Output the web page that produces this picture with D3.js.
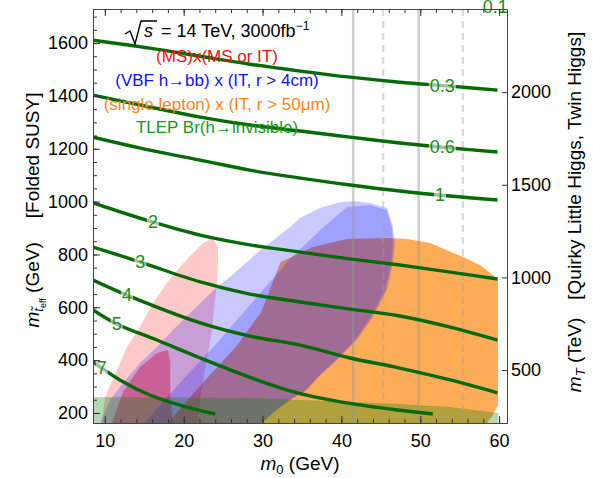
<!DOCTYPE html>
<html>
<head>
<meta charset="utf-8">
<script src="https://cdn.jsdelivr.net/npm/d3@7"></script>
<style>
body { margin: 0; background: #fff; }
text { font-family: "Liberation Sans", Arial, sans-serif; }
</style>
</head>
<body>
<svg id="chart" width="593" height="478"></svg>
<script>

// tick values
const m0Ticks = [10, 20, 30, 40, 50, 60];
const mStopTicks = [200, 400, 600, 800, 1000, 1200, 1400, 1600];
const mTTicks = [500, 1000, 1500, 2000];

// TLEP Br(h->invisible) contours, [m0, m_stop]
const br01 = [[8.5,1870],[22,1830],[35,1795],[47.4,1765],[59.8,1735]];
const br03 = [[8.5,1611],[15.7,1581],[22.1,1550],[28.4,1520],[34.8,1494],[41.1,1471],[47.4,1452],[53.8,1437],[59.8,1422]];
const br06 = [[8.5,1403],[15.7,1358],[22.1,1320],[28.4,1290],[34.8,1267],[41.1,1244],[47.4,1222],[53.8,1203],[59.8,1188]];
const br1  = [[8.5,1244],[15.7,1195],[22.1,1157],[28.4,1119],[34.8,1089],[41.1,1063],[47.4,1040],[53.8,1021],[59.8,1006]];
const br2  = [[8.5,995],[15.7,926],[22.1,873],[28.4,836],[34.8,809],[41.1,783],[47.4,760],[53.8,733],[59.8,707]];
const br3  = [[8.5,828],[14.5,771],[22.1,696],[28.4,650],[34.8,620],[41.1,593],[47.4,567],[53.8,525],[59.8,476]];
const br4  = [[8.5,703],[12.8,646],[22.1,541],[28.4,491],[34.8,457],[41.1,408],[47.4,370],[53.8,325],[59.8,276]];
const br5  = [[8.5,590],[11.5,537],[16.6,476],[22.1,408],[29.3,325],[34.4,276],[40.7,238],[47.1,211],[51.6,196]];
const br7  = [[8.5,393],[11.9,325],[15.7,268],[19.5,230],[24.0,196]];

const brCurves = [br01, br03, br06, br1, br2, br3, br4, br5, br7];
const brLevels = ["0.1", "0.3", "0.6", "1", "2", "3", "4", "5", "7"];
const brLabelX = [59.5, 52.8, 52.8, 52.5, 16.1, 14.5, 12.8, 11.5, 9.6];

// sensitivity regions, [m0, m_stop]
const msOuter = [[9.64,162],[10.02,260],[11.54,363],[12.81,450],[14.46,525],[16.11,616],[17.88,692],[19.53,752],[21.18,805],[22.45,843],[23.72,862],[24.35,828],[24.35,768],[24.22,692],[23.97,628],[23.59,514],[22.70,363],[22.07,249],[21.81,162]];
const msInner = [[10.9,162],[12.3,280],[14.46,374],[16.62,427],[18.0,438],[18.3,389],[18.3,260],[18.64,162]];
const vbfOuter = [[9.39,162],[10.66,249],[12.30,313],[14.46,389],[16.62,450],[18.64,514],[20.80,578],[24.22,677],[25.87,715],[29.30,805],[33.48,904],[34.75,938],[37.29,976],[39.82,998],[41.72,1002],[43.63,995],[45.78,976],[46.54,904],[46.80,843],[46.54,768],[45.78,665],[44.01,563],[41.98,476],[39.19,393],[37.29,344],[35.64,287],[33.48,249],[31.33,200],[30.06,162]];
const vbfInner = [[15.0,162],[20.2,336],[24.0,457],[28.4,609],[33.7,790],[37.3,892],[40.7,980],[43.6,987],[45.78,968],[46.42,900],[46.54,836],[46.29,760],[45.53,665],[43.75,563],[41.72,476],[38.93,389],[37.03,336],[35.38,283],[33.23,245],[31.07,196],[29.80,162]];
const leptonRegion = [[18.0,162],[22.4,313],[26.6,450],[29.8,580],[32.3,771],[36.40,828],[40.71,858],[46.16,862],[48.32,858],[51.23,843],[55.42,790],[57.57,760],[59.22,722],[59.86,703],[59.86,230],[59.22,192],[58.46,162]];
const tlepBand = [[8.5,162],[8.5,260],[28.4,257],[34.8,249],[41.1,242],[47.4,234],[53.8,223],[59.9,200],[59.9,162]];

// reference masses (gray lines)
const solidMarks = [41.5, 49.8];
const dashedMarks = [45.3, 55.4];

//////////////////////////////////////////////////////////////////////

const svg = d3.select('#chart');

const x = d3.scaleLinear().domain([8.5, 61]).range([93, 507]);
const y = d3.scaleLinear().domain([162, 1729]).range([423, 9]);
const yR = d3.scaleLinear().domain([214, 2449]).range([423, 9]);

svg.append('defs').append('clipPath').attr('id', 'plot-clip')
	.append('rect').attr('x', 93).attr('y', 9).attr('width', 414).attr('height', 414);

const plot = svg.append('g').attr('clip-path', 'url(#plot-clip)');

const shape = d3.line()
	.x(function(d) { return x(d[0]); })
	.y(function(d) { return y(d[1]); })
	.curve(d3.curveLinearClosed);

const regions = [
	{pts: leptonRegion, fill: 'rgba(255,128,0,0.65)'},
	{pts: msOuter, fill: 'rgba(255,0,0,0.21)'},
	{pts: msInner, fill: 'rgba(255,0,0,0.38)'},
	{pts: vbfOuter, fill: 'rgba(0,0,255,0.21)'},
	{pts: vbfInner, fill: 'rgba(0,0,255,0.2)'},
	{pts: tlepBand, fill: 'rgba(0,128,0,0.3)'}
];

plot.selectAll('path.region')
	.data(regions)
	.join('path')
	.classed('region', true)
	.attr('d', function(d) { return shape(d.pts); })
	.attr('fill', function(d) { return d.fill; });

// gray vertical lines
plot.selectAll('line.solid-mark')
	.data(solidMarks)
	.join('line')
	.attr('x1', function(d) { return x(d); })
	.attr('x2', function(d) { return x(d); })
	.attr('y1', 9).attr('y2', 423)
	.attr('stroke', 'rgba(150,150,150,0.45)')
	.attr('stroke-width', 2.6);

plot.selectAll('line.dashed-mark')
	.data(dashedMarks)
	.join('line')
	.attr('x1', function(d) { return x(d); })
	.attr('x2', function(d) { return x(d); })
	.attr('y1', 9).attr('y2', 423)
	.attr('stroke', 'rgba(160,160,160,0.4)')
	.attr('stroke-width', 2.2)
	.attr('stroke-dasharray', '7,5');

// contours
const curve = d3.line()
	.x(function(d) { return x(d[0]); })
	.y(function(d) { return y(d[1]); })
	.curve(d3.curveCatmullRom.alpha(0.5));

plot.selectAll('path.contour')
	.data(brCurves)
	.join('path')
	.classed('contour', true)
	.attr('d', curve)
	.attr('fill', 'none')
	.attr('stroke', '#066a06')
	.attr('stroke-width', 3.4);

function valueAt(pts, xv) {
	for (let i = 0; i < pts.length - 1; i++) {
		if (xv >= pts[i][0] && xv <= pts[i + 1][0]) {
			const t = (xv - pts[i][0]) / (pts[i + 1][0] - pts[i][0]);
			return pts[i][1] + t * (pts[i + 1][1] - pts[i][1]);
		}
	}
	return pts[pts.length - 1][1];
}

const labels = svg.append('g');
brLevels.forEach(function(lev, i) {
	const cx = x(brLabelX[i]);
	const cy = y(valueAt(brCurves[i], brLabelX[i]));
	const g = labels.append('g');
	const bg = g.append('rect');
	const t = g.append('text')
		.attr('x', cx).attr('y', cy)
		.attr('text-anchor', 'middle')
		.attr('dominant-baseline', 'central')
		.attr('font-size', 18)
		.attr('fill', '#1f8a1f')
		.text(lev);
	const bb = t.node().getBBox();
	bg.attr('x', bb.x - 1).attr('y', bb.y + 2).attr('width', bb.width + 2).attr('height', bb.height - 4)
		.attr('fill', 'rgba(255,255,255,0.6)');
});

// axes
const fmt = d3.format('d');
const xAxisB = d3.axisBottom(x).tickValues(m0Ticks).tickFormat(fmt).tickSizeInner(-7).tickSizeOuter(0).tickPadding(11);
const xMinorB = d3.axisBottom(x).tickValues(d3.range(10, 61, 2)).tickSizeInner(-4).tickSizeOuter(0).tickFormat('');
const xAxisT = d3.axisTop(x).tickValues(m0Ticks).tickSizeInner(-7).tickSizeOuter(0).tickFormat('');
const xMinorT = d3.axisTop(x).tickValues(d3.range(10, 61, 2)).tickSizeInner(-4).tickSizeOuter(0).tickFormat('');
const yAxisL = d3.axisLeft(y).tickValues(mStopTicks).tickFormat(fmt).tickSizeInner(-7).tickSizeOuter(0).tickPadding(5);
const yMinorL = d3.axisLeft(y).tickValues(d3.range(200, 1701, 50)).tickSizeInner(-4).tickSizeOuter(0).tickFormat('');
const yAxisR = d3.axisRight(yR).tickValues(mTTicks).tickFormat(fmt).tickSizeInner(-5).tickSizeOuter(0).tickPadding(4);

function styleAxis(g) {
	g.selectAll('.domain').attr('stroke', '#444');
	g.selectAll('.tick line').attr('stroke', '#333');
	g.selectAll('.tick text').attr('font-size', 18).attr('fill', '#000')
		.attr('font-family', '"Liberation Sans", Arial, sans-serif');
}

svg.append('g').attr('transform', 'translate(0,423)').call(xMinorB).call(styleAxis);
svg.append('g').attr('transform', 'translate(0,423)').call(xAxisB).call(styleAxis);
svg.append('g').attr('transform', 'translate(0,9)').call(xMinorT).call(styleAxis);
svg.append('g').attr('transform', 'translate(0,9)').call(xAxisT).call(styleAxis);
svg.append('g').attr('transform', 'translate(93,0)').call(yMinorL).call(styleAxis);
svg.append('g').attr('transform', 'translate(93,0)').call(yAxisL).call(styleAxis);
svg.append('g').attr('transform', 'translate(507,0)').call(yAxisR).call(styleAxis);

// axis titles
const xt = svg.append('text').attr('x', 300).attr('y', 470).attr('text-anchor', 'middle').attr('font-size', 19);
xt.append('tspan').attr('font-style', 'italic').text('m');
xt.append('tspan').attr('font-size', 13).attr('dy', 4).text('0');
xt.append('tspan').attr('dy', -4).text(' (GeV)');

const yt = svg.append('text').attr('transform', 'translate(39,210) rotate(-90)')
	.attr('text-anchor', 'middle').attr('font-size', 19);
yt.append('tspan').attr('font-style', 'italic').text('m');
yt.append('tspan').attr('font-style', 'italic').attr('font-size', 13).attr('dy', 4).text('t\u0303');
yt.append('tspan').attr('font-size', 9).attr('dy', 3).text('eff');
yt.append('tspan').attr('dy', -7).text(' (GeV)');
yt.append('tspan').attr('dx', 24).text('[Folded SUSY]');

const rt = svg.append('text').attr('transform', 'translate(581,212) rotate(-90)')
	.attr('text-anchor', 'middle').attr('font-size', 19);
rt.append('tspan').attr('font-style', 'italic').text('m');
rt.append('tspan').attr('font-style', 'italic').attr('font-size', 13).attr('dy', 4).text('T');
rt.append('tspan').attr('dy', -4).text(' (TeV)');
rt.append('tspan').attr('dx', 18).text('[Quirky Little Higgs, Twin Higgs]');

// annotation block
svg.append('path')
	.attr('d', 'M125,34 L130,31 L135,44 L141,21 L157,21')
	.attr('fill', 'none').attr('stroke', '#000').attr('stroke-width', 1.4);
svg.append('text').attr('x', 144).attr('y', 37).attr('font-size', 18).attr('font-style', 'italic').text('s');
const st = svg.append('text').attr('x', 161).attr('y', 37).attr('font-size', 18);
st.append('tspan').text('= 14 TeV, 3000fb');
st.append('tspan').attr('font-size', 12).attr('dy', -7).text('\u22121');

const notes = [
	{t: '(MS)x(MS or IT)', c: '#f01010', y: 62},
	{t: '(VBF h\u2192bb) x (IT, r > 4cm)', c: '#1010ff', y: 86},
	{t: '(single lepton) x (IT, r > 50\u03bcm)', c: '#ff8418', y: 110},
	{t: 'TLEP Br(h\u2192invisible)', c: '#149a14', y: 133}
];
svg.selectAll('text.note')
	.data(notes)
	.join('text')
	.classed('note', true)
	.attr('x', 217).attr('y', function(d) { return d.y; })
	.attr('text-anchor', 'middle')
	.attr('font-size', 17)
	.attr('fill', function(d) { return d.c; })
	.text(function(d) { return d.t; });

</script>
</body>
</html>
